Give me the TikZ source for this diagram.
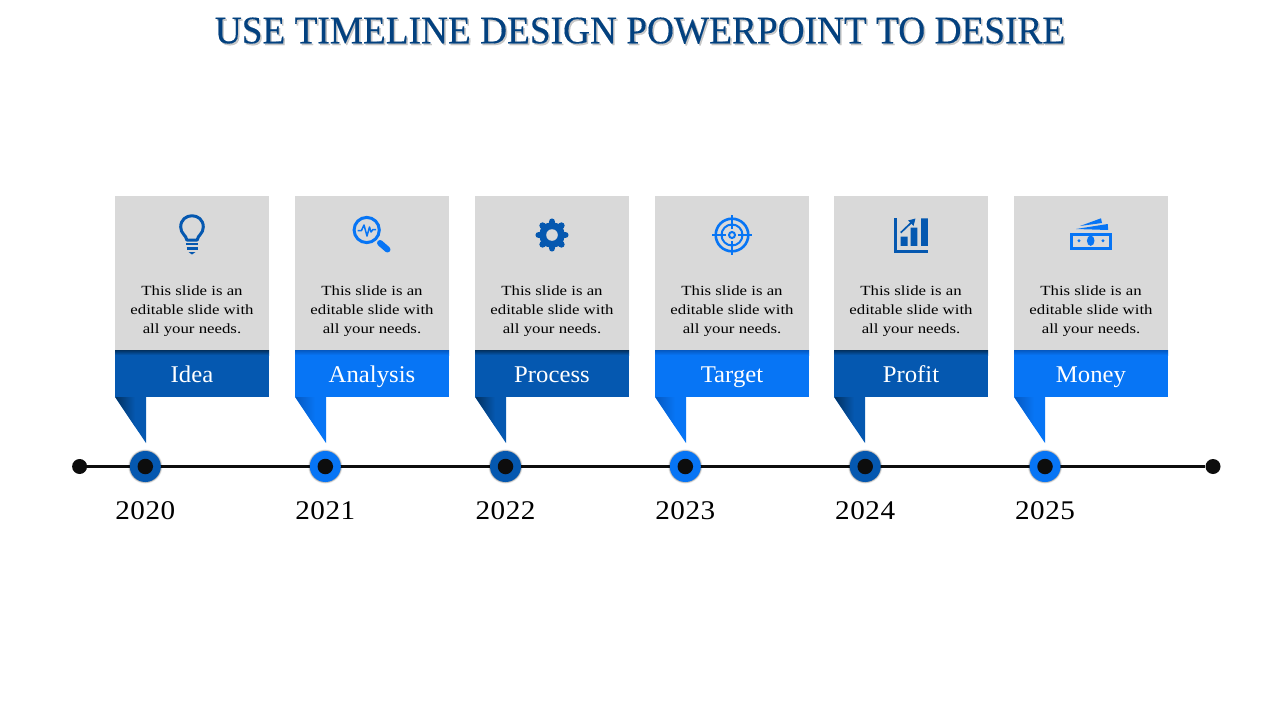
\documentclass[tikz,border=0pt]{standalone}
\usepackage{fontspec}
\setmainfont{Liberation Serif}
\newfontfamily\titlefont[FakeStretch=0.957,FakeBold=0.3]{Liberation Serif}
\newfontfamily\bodyfont[FakeStretch=1.2]{Liberation Serif}
\newfontfamily\bannerfont[FakeStretch=1.03]{Liberation Serif}
\newfontfamily\yearfont[FakeStretch=1.08,LetterSpace=2]{Liberation Serif}
\definecolor{bluedark}{HTML}{0558B0}
\definecolor{bluebright}{HTML}{0775F5}
\definecolor{edgedark}{HTML}{02305F}
\definecolor{edgebright}{HTML}{0558C0}
\definecolor{cardgrey}{HTML}{D9D9D9}
\definecolor{titleblue}{HTML}{03417F}
\definecolor{inkdot}{HTML}{0D0D0D}
\tikzset{
  cardbox/.style={fill=cardgrey,minimum width=154pt,minimum height=154pt,inner sep=0pt,
    align=center,font=\bodyfont\fontsize{14}{19}\selectfont,text=black},
  bannerbox/.style={minimum width=154pt,minimum height=47pt,inner sep=0pt},
  bannerlabel/.style={inner sep=0pt,anchor=base,text=white,font=\bannerfont\fontsize{24}{28}\selectfont},
  endpoint/.style={circle,fill=inkdot,minimum size=15pt,inner sep=0pt},
  hub/.style={circle,minimum size=31pt,inner sep=0pt,draw=none},
  hubcore/.style={circle,fill=inkdot,minimum size=15.5pt,inner sep=0pt},
  yearlabel/.style={font=\yearfont\fontsize{27}{30}\selectfont,text=black,inner sep=0pt,anchor=base},
  titletext/.style={font=\titlefont\fontsize{39}{44}\selectfont,inner sep=0pt,anchor=base},
}
\begin{document}
\begin{tikzpicture}[x=1pt,y=-1pt]
\useasboundingbox (0,0) rectangle (1280,720);
\fill[white] (0,0) rectangle (1280,720);
% title
\node[titletext,text=black!30,opacity=.7] (titleshadow) at (641.5,45) {USE TIMELINE DESIGN POWERPOINT TO DESIRE};
\node[titletext,text=titleblue] (title) at (640,43.3) {USE TIMELINE DESIGN POWERPOINT TO DESIRE};
% timeline
\node[endpoint] (tstart) at (79.6,466.5) {};
\node[endpoint] (tend) at (1213,466.5) {};
\draw[line width=3pt,color=inkdot] (tstart) -- (tend);
% columns
\foreach \i/\bx/\dx/\lab/\yr/\base/\edge in {
  1/115/145.3/Idea/2020/bluedark/edgedark,
  2/295/325.3/Analysis/2021/bluebright/edgebright,
  3/475/505.5/Process/2022/bluedark/edgedark,
  4/655/685.3/Target/2023/bluebright/edgebright,
  5/834/865.2/Profit/2024/bluedark/edgedark,
  6/1014/1045/Money/2025/bluebright/edgebright}{
  \node[cardbox] (card\i) at (\bx+77,273) {};
  \node[cardbox,fill=none] (text\i) at (\bx+77,311) {This slide is an\\editable slide with\\all your needs.};
  \fill[\base] (\bx,397) -- (\bx+31,397) -- (\bx+31,443) -- cycle;
  \begin{scope}
    \clip (\bx,396.5) -- (\bx+31,396.5) -- (\bx+31,443) -- cycle;
    \shade[left color=\edge,right color=\base] (\bx,396.5) rectangle (\bx+20,430);
  \end{scope}
  \node[bannerbox,fill=\base] (banner\i) at (\bx+77,373.5) {};
  \shade[top color=\edge,bottom color=\base] (\bx,350) rectangle (\bx+154,355);
  \node[bannerlabel] (label\i) at (\bx+77,382) {\lab};
  \foreach \r/\o in {17.2/.06,16.6/.12,16/.18}{\fill[black,opacity=\o] (\dx,466.5) circle (\r);}
  \node[hub,fill=\base] (hub\i) at (\dx,466.5) {};
  \node[hubcore] (core\i) at (\dx,466.5) {};
  \node[yearlabel] (year\i) at (\dx,519) {\yr};
}
% bulb
\draw[bluedark,line width=3pt,line join=round] (186.8,240) .. controls (186.3,235) and (180.7,234) .. (180.7,227)
  .. controls (180.7,212) and (203.3,212) .. (203.3,227) .. controls (203.3,234) and (197.7,235) .. (197.2,240) -- cycle;
\draw[bluedark,line width=2.4pt] (186,244) -- (198,244) (186.5,248.5) -- (197.5,248.5);
\fill[bluedark] (188.5,252) -- (195.5,252) -- (192,254.5) -- cycle;
% magnifier
\draw[bluebright,line width=3pt] (366.7,230) circle (12.6);
\draw[bluebright,line width=6pt,line cap=round] (380,243) -- (387.5,249.5);
\draw[bluebright,line width=1.5pt,line join=round] (357.5,230.5) -- (361.5,230.5) -- (364,225) -- (367,236) -- (369.5,227) -- (371,232) -- (373,229.5) -- (376,229.5);
% gear
\foreach \a in {0,45,...,315}{\draw[bluedark,line width=6.5pt,line cap=round] (552,235) -- ++(\a:13.3);}
\fill[bluedark] (552,235) circle (12.8);
\fill[cardgrey] (552,235) circle (5.8);
% target
\draw[bluebright,line width=2.6pt] (732,235) circle (16.3);
\draw[bluebright,line width=2pt] (732,235) circle (10.5) (732,235) circle (3);
\draw[bluebright,line width=2pt] (732,215) -- (732,229) (732,241) -- (732,255) (712,235) -- (726,235) (738,235) -- (752,235);
% chart
\draw[bluedark,line width=3pt] (895.2,218) -- (895.2,251) -- (928,251);
\fill[bluedark] (900.7,236.7) rectangle (907.7,245.8) (910.7,227.7) rectangle (917.4,245.8) (921,218.3) rectangle (927.8,245.8);
\draw[bluedark,line width=1.7pt] (900.7,232.7) -- (913,221);
\fill[bluedark] (915.5,218.5) -- (908,220.5) -- (913.5,226) -- cycle;
% money
\draw[bluebright,line width=3pt] (1071.5,234.2) rectangle (1110.5,248.7);
\fill[bluebright] (1090.7,240.7) ellipse (3.8 and 5.2);
\fill[bluebright] (1079,240.7) circle (1.6) (1103,240.7) circle (1.6);
\fill[bluebright] (1076,229) -- (1107.7,224) -- (1108.2,230) -- cycle;
\fill[bluebright] (1080,226) -- (1101,218.3) -- (1102,223) -- cycle;
\end{tikzpicture}
\end{document}
